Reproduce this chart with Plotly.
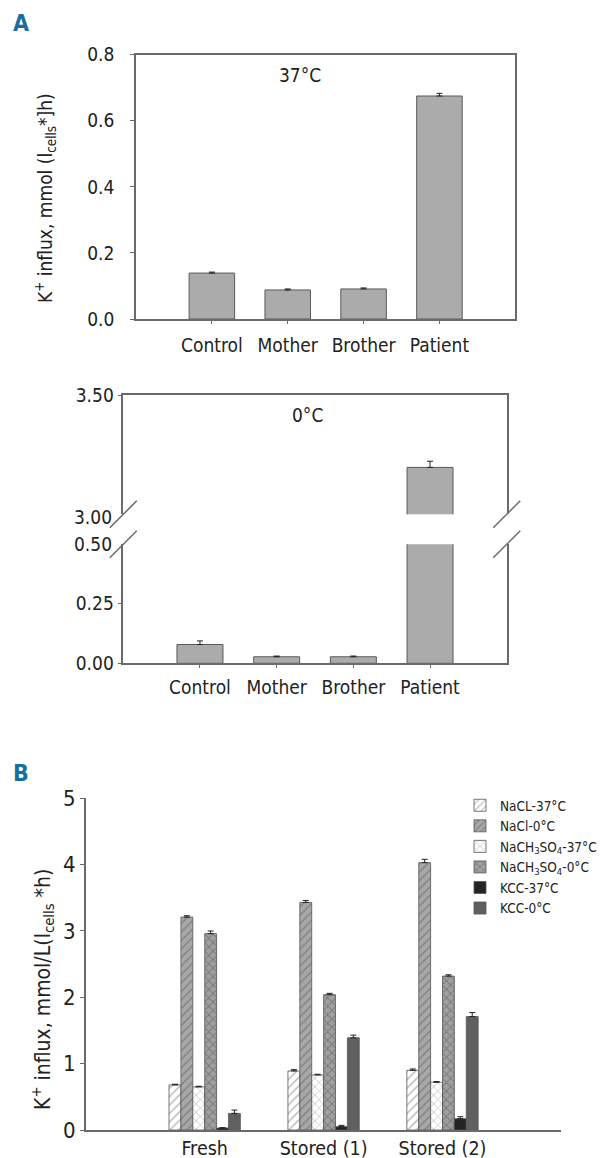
import plotly.graph_objects as go

# The page body has an 8px margin; the figure is offset by it inside the 611x1158 window.
PAGE_W, PAGE_H = 611, 1158
OFF = 8
W, H = PAGE_W - OFF, PAGE_H
FONT = "Liberation Sans Narrow, DejaVu Sans Condensed, Roboto Condensed, Arial Narrow, sans-serif"

# ---------------- Data ----------------
subjects = ["Control", "Mother", "Brother", "Patient"]
influx_37 = [0.139, 0.088, 0.091, 0.675]
influx_37_err = [0.003, 0.003, 0.003, 0.008]
influx_0 = [0.079, 0.0275, 0.0275, 3.197]
influx_0_err = [0.015, 0.003, 0.003, 0.026]

a_top_ticks = [0.0, 0.2, 0.4, 0.6, 0.8]
a_top_ticklabels = ["0.0", "0.2", "0.4", "0.6", "0.8"]
a_up_ticks = [3.0, 3.5]
a_up_ticklabels = ["3.00", "3.50"]
a_low_ticks = [0.0, 0.25, 0.5]
a_low_ticklabels = ["0.00", "0.25", "0.50"]

groups = ["Fresh", "Stored (1)", "Stored (2)"]
series_names = ["NaCL-37°C", "NaCl-0°C", "NaCH<sub>3</sub>SO<sub>4</sub>-37°C",
                "NaCH<sub>3</sub>SO<sub>4</sub>-0°C", "KCC-37°C", "KCC-0°C"]
nacl_37 = [0.68, 0.89, 0.90]
nacl_37_err = [0.01, 0.02, 0.02]
nacl_0 = [3.21, 3.43, 4.03]
nacl_0_err = [0.02, 0.03, 0.05]
nach3so4_37 = [0.65, 0.83, 0.72]
nach3so4_37_err = [0.01, 0.01, 0.01]
nach3so4_0 = [2.96, 2.04, 2.32]
nach3so4_0_err = [0.04, 0.02, 0.02]
kcc_37 = [0.03, 0.05, 0.17]
kcc_37_err = [0.005, 0.02, 0.03]
kcc_0 = [0.25, 1.39, 1.71]
kcc_0_err = [0.05, 0.04, 0.06]
b_ticks = [0, 1, 2, 3, 4, 5]

# ---------------- Styles ----------------
BAR_GRAY = "#ababab"
EDGE = "#5a5a5a"
AXIS = "#6a6a6a"
TXT = "#222222"

def px_x(p):
    return (p - OFF) / W

def px_y(p):
    return 1 - (p - OFF) / H

def err(arr):
    return dict(type="data", array=arr, arrayminus=[0] * len(arr), symmetric=False,
                color="#222", thickness=1, width=3)

fig = go.Figure()

# Panel A top (37 °C)
fig.add_trace(go.Bar(x=subjects, y=influx_37, width=0.6, xaxis="x", yaxis="y",
                     marker=dict(color=BAR_GRAY, line=dict(color=EDGE, width=1)),
                     error_y=err(influx_37_err), showlegend=False))

# Panel A bottom (0 °C) - upper segment
fig.add_trace(go.Bar(x=subjects, y=influx_0, width=0.6, xaxis="x2", yaxis="y2",
                     marker=dict(color=BAR_GRAY, line=dict(color=EDGE, width=1)),
                     error_y=err(influx_0_err), showlegend=False))
# lower segment
fig.add_trace(go.Bar(x=subjects, y=influx_0, width=0.6, xaxis="x3", yaxis="y3",
                     marker=dict(color=BAR_GRAY, line=dict(color=EDGE, width=1)),
                     error_y=err(influx_0_err), showlegend=False))

# Panel B
b_series = [
    (nacl_37, nacl_37_err, dict(color="white", pattern=dict(shape="/", fgcolor="#777", bgcolor="white", size=6, solidity=0.25, fillmode="overlay"))),
    (nacl_0, nacl_0_err, dict(color="#a8a8a8", pattern=dict(shape="/", fgcolor="#5e5e5e", bgcolor="#a8a8a8", size=6, solidity=0.25, fillmode="overlay"))),
    (nach3so4_37, nach3so4_37_err, dict(color="white", pattern=dict(shape="x", fgcolor="#888", bgcolor="white", size=6, solidity=0.25, fillmode="overlay"))),
    (nach3so4_0, nach3so4_0_err, dict(color="#a0a0a0", pattern=dict(shape="x", fgcolor="#555", bgcolor="#a0a0a0", size=6, solidity=0.3, fillmode="overlay"))),
    (kcc_37, kcc_37_err, dict(color="#242424")),
    (kcc_0, kcc_0_err, dict(color="#606060")),
]
for name, (vals, e, mk) in zip(series_names, b_series):
    mk = dict(mk)
    mk["line"] = dict(color="#555", width=0.8)
    fig.add_trace(go.Bar(x=groups, y=vals, name=name, xaxis="x4", yaxis="y4",
                         marker=mk, error_y=err(e), showlegend=True))

axfont = dict(family=FONT, size=19, color=TXT)

A_TOP_X = [px_x(136), px_x(515.3)]
A_TOP_Y = [px_y(319), px_y(54.7)]
A_BOT_X = [px_x(123.3), px_x(506.7)]
A_UP_Y = [px_y(514.3), px_y(395.3)]
A_LOW_Y = [px_y(663.3), px_y(544.3)]
B_X = [px_x(85.8), px_x(561.4)]
B_Y = [px_y(1130), px_y(798.3)]

fig.update_layout(
    width=W, height=H,
    margin=dict(l=0, r=0, t=0, b=0, autoexpand=False),
    paper_bgcolor="white", plot_bgcolor="white",
    font=dict(family=FONT, color=TXT),
    barmode="group", bargap=0.4, bargroupgap=0,
    xaxis=dict(domain=A_TOP_X, range=[-1, 4], showline=True, linecolor=AXIS, linewidth=1.5,
               mirror=True, ticks="outside", ticklen=3, tickcolor=AXIS, tickfont=axfont,
               ticklabelstandoff=5, showgrid=False, zeroline=False, anchor="y"),
    yaxis=dict(domain=A_TOP_Y, range=[0, 0.8], tickvals=a_top_ticks, ticktext=a_top_ticklabels,
               showline=True, linecolor=AXIS, linewidth=1.5, mirror=True, ticks="outside",
               ticklen=4, tickcolor=AXIS, tickfont=axfont, ticklabelstandoff=12,
               showgrid=False, zeroline=False, anchor="x"),
    xaxis2=dict(domain=A_BOT_X, range=[-1, 4], side="top", showline=True, linecolor=AXIS,
                linewidth=1.5, ticks="", showticklabels=False, showgrid=False, zeroline=False,
                anchor="y2"),
    yaxis2=dict(domain=A_UP_Y, range=[3.0, 3.5], tickvals=[3.5], ticktext=["3.50"],
                showline=True, linecolor=AXIS, linewidth=1.5, mirror=True, ticks="outside",
                ticklen=4, tickcolor=AXIS, tickfont=axfont, showgrid=False, zeroline=False,
                anchor="x2"),
    xaxis3=dict(domain=A_BOT_X, range=[-1, 4], showline=True, linecolor=AXIS, linewidth=1.5,
                ticks="outside", ticklen=3, tickcolor=AXIS, tickfont=axfont,
                ticklabelstandoff=3, showgrid=False, zeroline=False, anchor="y3"),
    yaxis3=dict(domain=A_LOW_Y, range=[0, 0.5], tickvals=[0, 0.25], ticktext=["0.00", "0.25"],
                showline=True, linecolor=AXIS, linewidth=1.5, mirror=True, ticks="outside",
                ticklen=4, tickcolor=AXIS, tickfont=axfont, showgrid=False, zeroline=False,
                anchor="x3"),
    xaxis4=dict(domain=B_X, range=[-1, 3], showline=True, linecolor=AXIS, linewidth=1.5,
                ticks="", ticklen=0, tickfont=dict(family=FONT, size=19.5, color=TXT),
                showgrid=False, zeroline=False, anchor="y4"),
    yaxis4=dict(domain=B_Y, range=[0, 5], tickvals=b_ticks, showline=True, linecolor=AXIS,
                linewidth=1.5, ticks="outside", ticklen=4, tickcolor=AXIS,
                tickfont=dict(family=FONT, size=22, color=TXT), showgrid=False, zeroline=False,
                anchor="x4"),
    legend=dict(x=px_x(460), y=px_y(790), xanchor="left", yanchor="top",
                font=dict(family=FONT, size=13.5, color=TXT), bgcolor="rgba(0,0,0,0)",
                tracegroupgap=0, itemwidth=30),
)

# Labels for break ticks (3.00 / 0.50) as annotations next to axis
for txt, yref, yv in [(a_up_ticklabels[0], "y2 domain", 0), (a_low_ticklabels[2], "y3 domain", 1)]:
    fig.add_annotation(text=txt, xref="x3 domain", x=0, xanchor="right", xshift=-9,
                       yref=yref, y=yv, yanchor="middle", yshift=-3 if yv == 0 else 0,
                       showarrow=False, font=axfont)

# Break marks
dx = 13.5 / (506.7 - 123.3)
dy = 13.5 / (514.3 - 395.3)
for xv in (0, 1):
    fig.add_shape(type="line", xref="x3 domain", yref="y2 domain",
                  x0=xv - dx, y0=-dy, x1=xv + dx, y1=dy, line=dict(color=AXIS, width=1.5))
    fig.add_shape(type="line", xref="x3 domain", yref="y3 domain",
                  x0=xv - dx, y0=1 - dy, x1=xv + dx, y1=1 + dy, line=dict(color=AXIS, width=1.5))

def note(text, x, y, size, color=TXT, angle=0):
    fig.add_annotation(text=text, xref="paper", yref="paper", x=px_x(x), y=px_y(y),
                       xanchor="center", yanchor="middle", textangle=angle, showarrow=False,
                       font=dict(family=FONT, size=size, color=color))

note("37°C", 300, 75, 19)
note("0°C", 307.7, 415, 19)
note("K<sup>+</sup> influx, mmol (l<sub>cells</sub>*]h)", 45, 198, 19, angle=-90)
note("K<sup>+</sup> influx, mmol/L(l<sub>cells</sub> *h)", 42, 990, 21, angle=-90)
note("<b>A</b>", 21, 23, 23, color="#1a6fa0")
note("<b>B</b>", 21, 773, 23, color="#1a6fa0")

fig.write_html("out.html")
